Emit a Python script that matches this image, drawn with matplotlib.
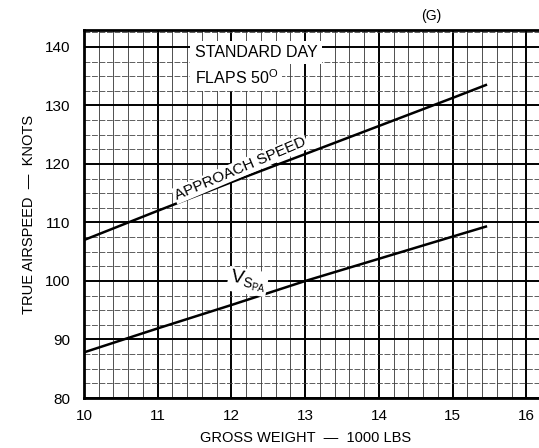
import numpy as np
import matplotlib
matplotlib.use("Agg")
import matplotlib.pyplot as plt
from matplotlib.ticker import MultipleLocator

plt.rcParams['font.family'] = ['Liberation Sans', 'DejaVu Sans']

# gross weight (1000 lbs) and airspeeds (knots)
weight = [10, 11, 12, 13, 14, 15, 15.45]
approach_speed = [107.0, 112.0, 116.9, 121.7, 126.5, 131.3, 133.5]
v_spa = [87.8, 91.9, 95.9, 100.0, 103.8, 107.6, 109.3]

x_ticks = [10, 11, 12, 13, 14, 15, 16]
y_ticks = [80, 90, 100, 110, 120, 130, 140]

fig = plt.figure(figsize=(5.39, 4.48), dpi=100)
ax = fig.add_axes([0.1558, 0.1116, 0.8442, 0.8214])

ax.set_xlim(10, 16.17)
ax.set_ylim(80, 142.9)
ax.set_xticks(x_ticks)
ax.set_yticks(y_ticks)
ax.xaxis.set_minor_locator(MultipleLocator(0.2))
ax.yaxis.set_minor_locator(MultipleLocator(2.5))

ax.set_axisbelow(True)
ax.grid(which='major', color='black', linewidth=1.4)
ax.xaxis.grid(which='minor', color='#333333', linewidth=0.6)
ax.yaxis.grid(which='minor', color='#444444', linewidth=0.6, linestyle=(0, (7, 2)))

for s in ['left', 'bottom', 'top']:
    ax.spines[s].set_linewidth(2)
ax.spines['right'].set_visible(False)
ax.tick_params(which='both', length=0, labelsize=11, colors='black')
ax.tick_params(axis='y', pad=10)
ax.tick_params(axis='x', pad=8)

ax.plot(weight, approach_speed, color='black', linewidth=1.8)
ax.plot(weight, v_spa, color='black', linewidth=1.8)

box = dict(facecolor='white', edgecolor='none', pad=1)
ax.text(11.5, 139.0, 'STANDARD DAY', fontsize=11.5, ha='left', va='center',
        bbox=dict(facecolor='white', edgecolor='none', pad=3))
ax.text(11.5, 134.8, r'FLAPS 50$^{\mathregular{O}}$', fontsize=11.5, ha='left', va='center',
        bbox=dict(facecolor='white', edgecolor='none', pad=3))
ax.text(12.12, 119.2, 'APPROACH SPEED', fontsize=11, rotation=23,
        ha='center', va='center', rotation_mode='anchor', bbox=box)
ax.text(12.22, 99.9, r'$\mathregular{V_{S_{PA}}}$', fontsize=14, rotation=-10,
        ha='center', va='center', bbox=box)

ax.set_ylabel('TRUE AIRSPEED  \u2014  KNOTS', fontsize=10.5, labelpad=6)
fig.text(0.566, 1 - 438 / 448, 'GROSS WEIGHT  \u2014  1000 LBS', fontsize=10.5,
         ha='center', va='center')
fig.text(0.8, 1 - 16 / 448, '(G)', fontsize=10, ha='center', va='center')

fig.savefig('out.png', dpi=100)
